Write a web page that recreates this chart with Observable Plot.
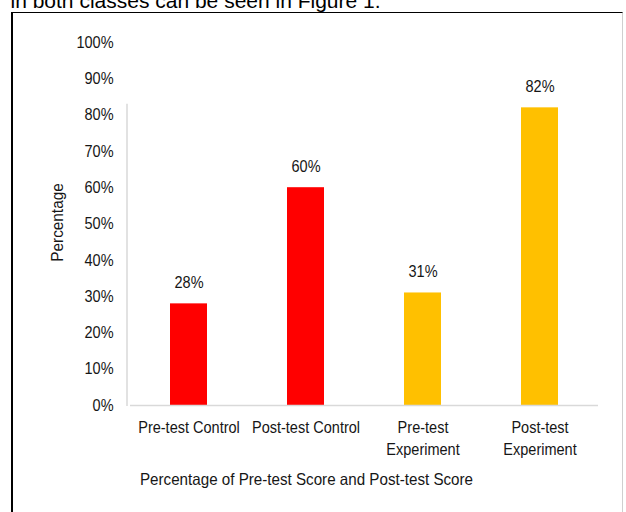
<!DOCTYPE html>
<html>
<head>
<meta charset="utf-8">
<script src="https://cdn.jsdelivr.net/npm/d3@7"></script>
<script src="https://cdn.jsdelivr.net/npm/@observablehq/plot@0.6"></script>
<style>
  html, body { margin: 0; padding: 0; background: #fff; }
  #wrap { position: relative; width: 626px; height: 512px; overflow: hidden; }
  #wrap svg { position: absolute; left: 0; top: 0; }
  #box { position: absolute; left: 11px; top: 12px; width: 609px; height: 520px;
         border-left: 2px solid #000; border-top: 1.5px solid #000; border-right: 1px solid #cfcfcf;
         pointer-events: none; }
</style>
</head>
<body>
<div id="wrap"><div id="box"></div></div>
<script>
const categories = ["Pre-test Control", "Post-test Control", "Pre-test\nExperiment", "Post-test\nExperiment"];
const values = [28, 60, 31, 82];
const groups = ["Control", "Control", "Experiment", "Experiment"];
const groupNames = ["Control", "Experiment"];
const groupColors = ["#ff0000", "#ffc000"];
const yTicks = [0, 10, 20, 30, 40, 50, 60, 70, 80, 90, 100];
const yTitle = "Percentage";
const xTitle = "Percentage of Pre-test Score and Post-test Score";
const topText = "in both classes can be seen in Figure 1.";
const axisLineTop = 83;

const data = categories.map((c, i) => ({category: c, value: values[i], group: groups[i]}));

const font = "Liberation Sans, Arial, sans-serif";
const textColor = "#161616";
const fs = 16.5;

const yAxisLine = (index, scales, vals, dims) => {
  const line = document.createElementNS("http://www.w3.org/2000/svg", "line");
  const x = dims.marginLeft - 3;
  line.setAttribute("x1", x);
  line.setAttribute("x2", x);
  line.setAttribute("y1", scales.y(0) + 1);
  line.setAttribute("y2", scales.y(axisLineTop));
  line.setAttribute("stroke", "#d9d9d9");
  line.setAttribute("stroke-width", 1.5);
  return line;
};

const chart = Plot.plot({
  width: 626,
  height: 512,
  marginLeft: 130,
  marginRight: 28,
  marginTop: 42,
  marginBottom: 107,
  style: {fontFamily: font, fontSize: fs + "px", color: textColor, background: "transparent"},
  x: {domain: categories, paddingInner: 0.684, paddingOuter: 0.342, label: null},
  y: {domain: [0, 100], label: null},
  color: {domain: groupNames, range: groupColors},
  marks: [
    Plot.barY(data, {x: "category", y: "value", fill: "group"}),
    Plot.ruleY([0], {stroke: "#d9d9d9", strokeWidth: 1.5}),
    yAxisLine,
    Plot.axisY({ticks: yTicks, tickSize: 0, tickPadding: 17, tickFormat: d => d + "%", fill: textColor, fontSize: fs, label: null}),
    Plot.axisX({tickSize: 0, tickPadding: 12, fill: textColor, fontSize: fs, lineHeight: 1.33, label: null}),
    Plot.text(data, {x: "category", y: "value", text: d => d.value + "%", dy: -21, fill: textColor, fontSize: fs}),
    Plot.text([yTitle], {text: d => d, frameAnchor: "left", textAnchor: "middle", lineAnchor: "middle", rotate: -90, dx: -73, dy: -1.5, fill: textColor, fontSize: fs}),
    Plot.text([xTitle], {text: d => d, frameAnchor: "bottom", textAnchor: "middle", lineAnchor: "middle", dx: -58, dy: 74, fill: textColor, fontSize: fs}),
    Plot.text([topText], {text: d => d, frameAnchor: "top-left", textAnchor: "start", lineAnchor: "bottom", dx: -120, dy: -35, fill: "#000", fontSize: 21})
  ]
});

document.getElementById("wrap").prepend(chart);

// horizontally condense chart labels slightly, about each label's anchor point
chart.querySelectorAll("text").forEach(t => {
  const s = t.textContent;
  if (s === topText) return;
  const k = s === xTitle ? 0.92 : s === yTitle ? 0.93 : 0.88;
  const bb = t.getBBox();
  const anchor = getComputedStyle(t).textAnchor;
  const ax = anchor === "end" ? bb.x + bb.width : anchor === "middle" ? bb.x + bb.width / 2 : bb.x;
  const T = t.getAttribute("transform") || "";
  t.setAttribute("transform", `${T} translate(${ax},0) scale(${k},1) translate(${-ax},0)`.trim());
});
</script>
</body>
</html>
